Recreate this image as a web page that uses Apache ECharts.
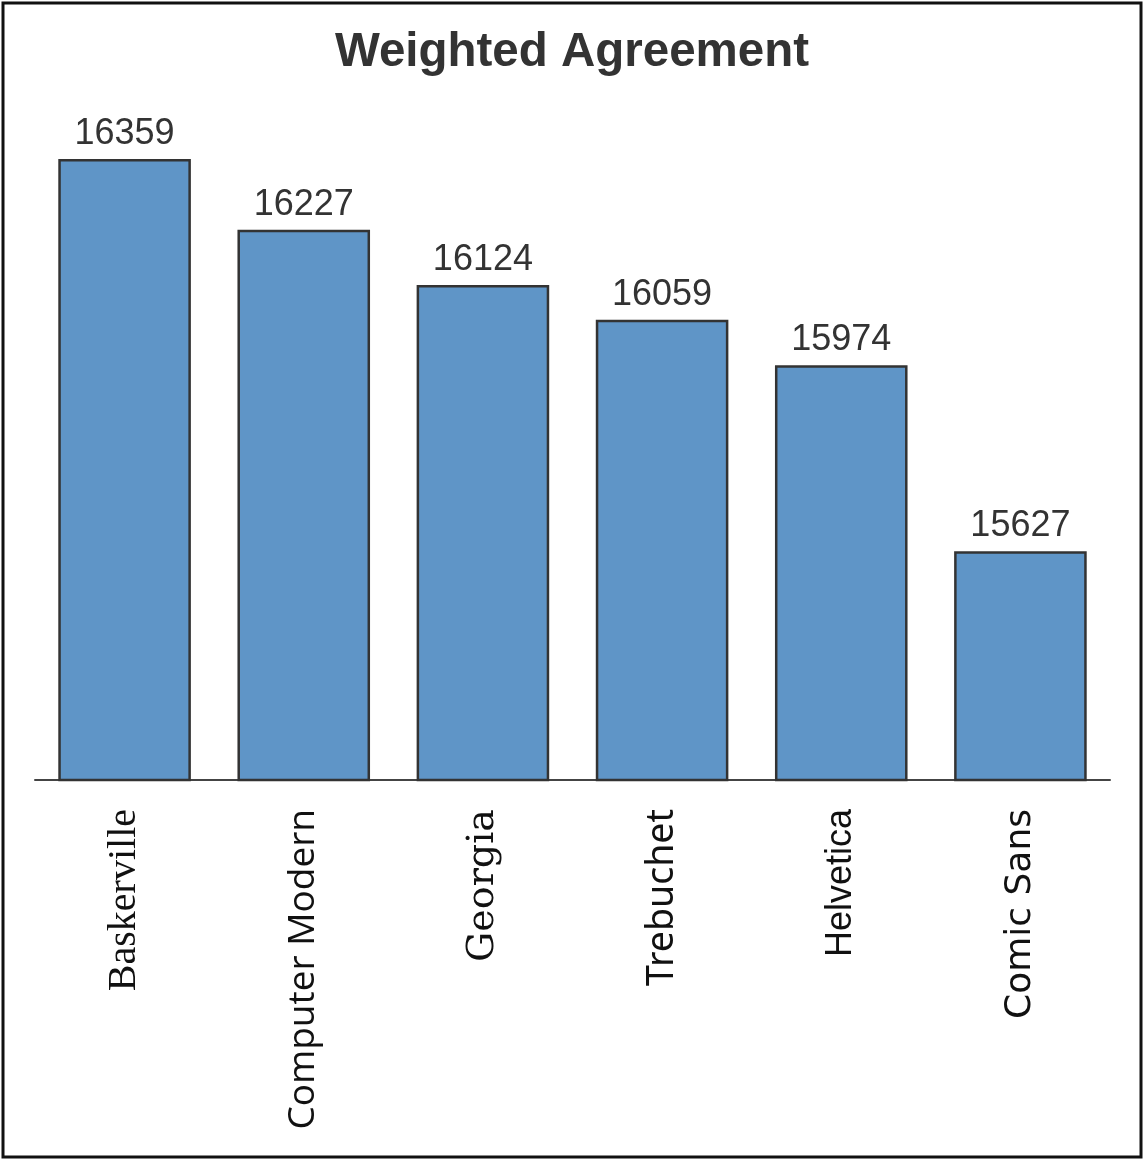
<!DOCTYPE html>
<html>
<head>
<meta charset="utf-8">
<script src="https://cdn.jsdelivr.net/npm/echarts@6/dist/echarts.min.js"></script>
<style>
html,body{margin:0;padding:0;background:#fff;}
#chart{width:1144px;height:1160px;}
</style>
</head>
<body>
<div id="chart"></div>
<script>
const categories = ['Baskerville', 'Computer Modern', 'Georgia', 'Trebuchet', 'Helvetica', 'Comic Sans'];
const values = [16359, 16227, 16124, 16059, 15974, 15627];
const labelFonts = [
  {fontFamily: 'Liberation Serif', fontSize: 40},
  {fontFamily: 'Open Sans', fontSize: 37},
  {fontFamily: 'DejaVu Serif', fontSize: 38},
  {fontFamily: 'Noto Sans', fontSize: 37.5},
  {fontFamily: 'Liberation Sans', fontSize: 36},
  {fontFamily: 'DejaVu Sans', fontSize: 36}
];
const yMin = 15200, yMax = 16400;

const chart = echarts.init(document.getElementById('chart'));
chart.setOption({
  animation: false,
  backgroundColor: '#fff',
  title: {
    text: 'Weighted Agreement',
    left: 'center',
    top: 24,
    textStyle: {fontFamily: 'Liberation Sans', fontWeight: 'bold', fontSize: 47.5, color: '#333'}
  },
  graphic: [{
    type: 'rect',
    shape: {x: 3, y: 3, width: 1138, height: 1154},
    style: {fill: 'none', stroke: '#111', lineWidth: 3},
    silent: true
  }],
  grid: {left: 35, right: 34, top: 137, bottom: 380},
  xAxis: {
    type: 'category',
    data: categories.map((c, i) => ({value: c, textStyle: labelFonts[i]})),
    axisLine: {lineStyle: {color: '#444', width: 2}},
    axisTick: {show: false},
    axisLabel: {rotate: 90, margin: 29, color: '#111', interval: 0}
  },
  yAxis: {
    type: 'value', min: yMin, max: yMax, show: false, splitLine: {show: false}
  },
  series: [{
    type: 'bar',
    data: values,
    barCategoryGap: '26%',
    itemStyle: {color: '#5f95c7', borderColor: '#333', borderWidth: 2.5},
    label: {
      show: true, position: 'top', distance: 7,
      fontFamily: 'Liberation Sans', fontSize: 36, color: '#333'
    }
  }]
});
</script>
</body>
</html>
